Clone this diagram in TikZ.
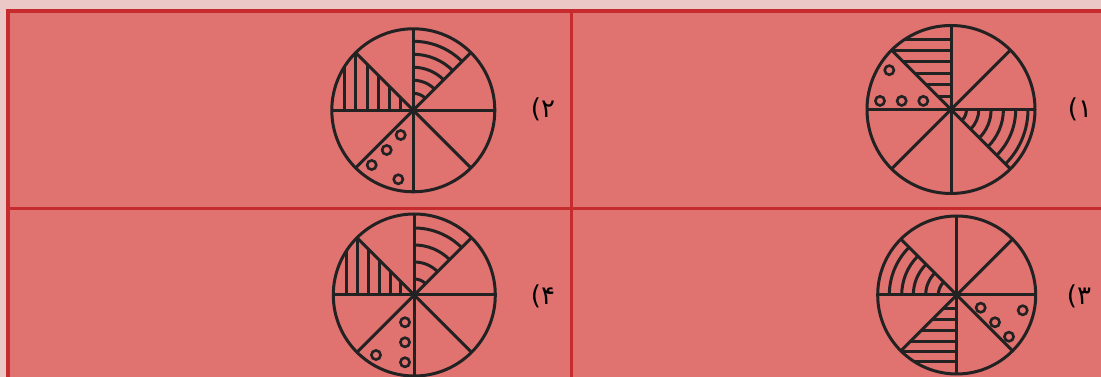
\documentclass[tikz,border=0pt]{standalone}
\usepackage{fontspec}
\newfontfamily\arabicfont[Script=Arabic]{DejaVu Sans}
\TeXXeTstate=1
\definecolor{pagebg}{HTML}{EBC8C6}
\definecolor{cellfill}{HTML}{E07270}
\definecolor{gridred}{HTML}{C62B2D}
\definecolor{ink}{HTML}{222222}
\tikzset{
  ln/.style={draw=ink, line width=3pt},
  dot/.style={draw=ink, line width=2.6pt},
  grid/.style={draw=gridred, line width=3.8pt},
  lbl/.style={font=\arabicfont\fontsize{26}{28}\selectfont, text=black, inner sep=0pt}
}
\begin{document}
\begin{tikzpicture}[x=1pt,y=1pt]
\useasboundingbox (0,0) rectangle (1101,377);
\clip (0,0) rectangle (1101,377);
\fill[pagebg] (0,0) rectangle (1101,377);
% table
\fill[cellfill] (8,-20) rectangle (1120,366);
\draw[grid] (1120,366) -- (8,366) -- (8,-20);
\draw[grid] (571.5,366) -- (571.5,-20);
\draw[grid] (8,168.5) -- (1120,168.5);

% ---- circle 1 (top right)
\begin{scope}[shift={(951,267.5)}]
  \def\R{84pt}
  \begin{scope}
    \clip (0,0) -- (90:\R) arc (90:135:\R) -- cycle;
    \foreach \h in {13.3,24.7,36.1,47.5,58.9,70.3} \draw[ln] (-90,\h) -- (0,\h);
  \end{scope}
  \foreach \p in {(-61.7,39.3),(-71,8.6),(-49.3,8.6),(-27.7,8.6)} \draw[dot] \p circle (4.6pt);
  \foreach \r in {15.5,27.8,40.1,52.4,64.7,77} \draw[ln] (\r pt,0) arc (0:-45:\r pt);
  \foreach \a in {0,45,...,315} \draw[ln] (0,0) -- (\a:\R);
  \draw[ln] (0,0) circle (\R);
\end{scope}

% ---- circle 2 (top left)
\begin{scope}[shift={(413.3,266.7)}]
  \def\R{81.5pt}
  \foreach \r in {17,30,43,56,69} \draw[ln] (0,\r pt) arc (90:45:\r pt);
  \begin{scope}
    \clip (0,0) -- (135:\R) arc (135:180:\R) -- cycle;
    \foreach \v in {13.3,24,35,46,57.6,69.3} \draw[ln] (-\v,0) -- (-\v,90);
  \end{scope}
  \foreach \p in {(-12.6,-24.7),(-26.6,-39.7),(-41.6,-54.7),(-15,-69)} \draw[dot] \p circle (4.6pt);
  \foreach \a in {0,45,...,315} \draw[ln] (0,0) -- (\a:\R);
  \draw[ln] (0,0) circle (\R);
\end{scope}

% ---- circle 3 (bottom right)
\begin{scope}[shift={(956.7,82)}]
  \def\R{79pt}
  \foreach \r in {18.4,31,43.4,55,67.4} \draw[ln] (-\r pt,0) arc (180:135:\r pt);
  \begin{scope}
    \clip (0,0) -- (225:\R) arc (225:270:\R) -- cycle;
    \foreach \h in {13.3,25,36,46.7,56.7,66.7} \draw[ln] (-90,-\h) -- (0,-\h);
  \end{scope}
  \foreach \p in {(24,-12.7),(38.3,-27.3),(52.3,-41.7),(66,-15.3)} \draw[dot] \p circle (4.6pt);
  \foreach \a in {0,45,...,315} \draw[ln] (0,0) -- (\a:\R);
  \draw[ln] (0,0) circle (\R);
\end{scope}

% ---- circle 4 (bottom left)
\begin{scope}[shift={(414.3,82)}]
  \def\R{81pt}
  \foreach \r in {16,33,50,67} \draw[ln] (0,\r pt) arc (90:45:\r pt);
  \begin{scope}
    \clip (0,0) -- (135:\R) arc (135:180:\R) -- cycle;
    \foreach \v in {14.3,24.3,35,46,57,68.3} \draw[ln] (-\v,0) -- (-\v,90);
  \end{scope}
  \foreach \p in {(-9.3,-27.3),(-9.3,-47.3),(-9.3,-67.3),(-38.3,-60)} \draw[dot] \p circle (4.6pt);
  \foreach \a in {0,45,...,315} \draw[ln] (0,0) -- (\a:\R);
  \draw[ln] (0,0) circle (\R);
\end{scope}

% labels
\node[lbl] (l1) at (1080,268) {\beginR ۱)\endR};
\node[lbl] (l2) at (543,268) {\beginR ۲)\endR};
\node[lbl] (l3) at (1079,81) {\beginR ۳)\endR};
\node[lbl] (l4) at (543,81) {\beginR ۴)\endR};
\end{tikzpicture}
\end{document}
